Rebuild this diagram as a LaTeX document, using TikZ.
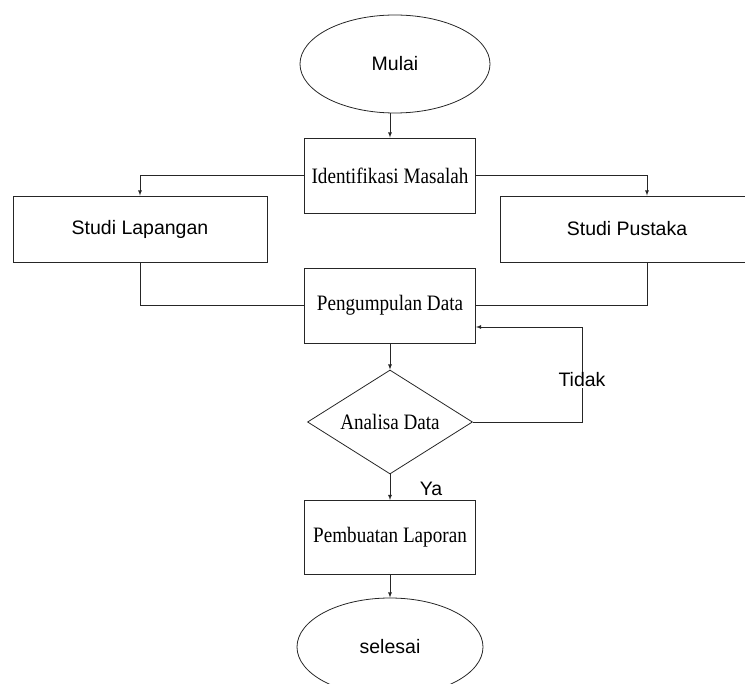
\documentclass[tikz,border=0pt]{standalone}
\usepackage{xcolor}
\usepackage{fontspec}
\setmainfont{Liberation Serif}
\setsansfont{Liberation Sans}
\newfontfamily\narrowserif[FakeStretch=0.87]{Liberation Serif}
\usetikzlibrary{arrows,calc,shapes.geometric}
\tikzset{
  box/.style = {
    draw=black!85,
    line width=0.9pt,
    rectangle,
    inner sep=0pt
  },
  terminal/.style = {
    draw=black!85,
    line width=0.8pt,
    ellipse,
    inner sep=0pt
  },
  decision/.style = {
    draw=black!85,
    line width=0.8pt,
    diamond,
    aspect=1.59,
    inner sep=0pt
  },
  flow/.style = {
    draw=black!85,
    line width=0.8pt,
    -latex
  },
  plainlink/.style = {
    draw=black!85,
    line width=0.8pt
  },
  serif class/.style={
    every text node part/.style={
      align=center,
      font={\narrowserif\fontsize{22}{24}\selectfont}
    }
  },
  sans class/.style={
    every text node part/.style={
      align=center,
      font={\sffamily\fontsize{19.5}{22}\selectfont}
    }
  },
}

\begin{document}
\begin{tikzpicture}[x=1pt,y=-1pt]

  \useasboundingbox (0,0) rectangle (745,684);
  \clip (0,0) rectangle (745,684);

  \node[terminal, sans class, minimum width=190pt, minimum height=98pt] (mulai) at (395,64) {Mulai};

  \node[box, serif class, minimum width=171pt, minimum height=75pt] (identifikasi) at (390,175.5) {Identifikasi Masalah};

  \node[box, sans class, minimum width=254pt, minimum height=66pt] (lapangan) at (140,229) {Studi Lapangan};
  \node[box, sans class, minimum width=294pt, minimum height=66pt] (pustaka) at (647,229) {};
  \node[sans class] (pustakatext) at (627,229) {Studi Pustaka};

  \node[box, serif class, minimum width=171pt, minimum height=75pt] (pengumpulan) at (390,305.5) {Pengumpulan Data};

  \node[decision, serif class, minimum width=165pt, minimum height=104pt] (analisa) at (390,422) {Analisa Data};

  \node[box, serif class, minimum width=171pt, minimum height=74pt] (laporan) at (390,537.5) {Pembuatan Laporan};

  \node[terminal, sans class, minimum width=186pt, minimum height=98pt] (selesai) at (390,647) {selesai};

  \coordinate (kembali) at (582,327);

  \draw[flow] (mulai.south -| identifikasi.north) -- (identifikasi.north);
  \draw[flow] (identifikasi.west) -| (lapangan.north);
  \draw[flow] (identifikasi.east) -| (pustaka.north);
  \draw[plainlink] (lapangan.south) |- (pengumpulan.west);
  \draw[plainlink] (pustaka.south) |- (pengumpulan.east);
  \draw[flow] (pengumpulan.south) -- (analisa.north);
  \draw[flow] (analisa.east) -| (kembali) -- (kembali -| pengumpulan.east);
  \draw[flow] (analisa.south) -- (laporan.north);
  \draw[flow] (laporan.south) -- (selesai.north);

  \node[sans class, fill=white, inner sep=1pt] (tidak) at (582,380) {Tidak};
  \node[sans class, inner sep=0pt] (ya) at (431,489) {Ya};

\end{tikzpicture}
\end{document}
